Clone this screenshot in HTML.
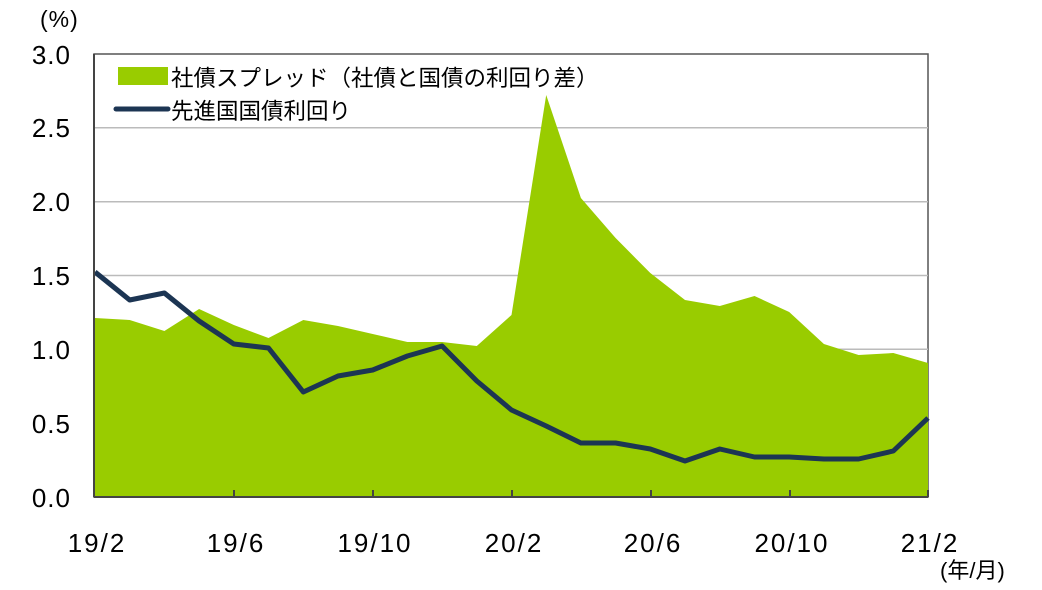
<!DOCTYPE html>
<html><head><meta charset="utf-8"><style>
body{margin:0;background:#fff;}
svg text{font-family:"Liberation Sans","Noto Sans CJK JP",sans-serif;fill:#000;}
</style></head><body>
<svg width="1042" height="585" viewBox="0 0 1042 585" xmlns="http://www.w3.org/2000/svg">
<rect x="94" y="54" width="834" height="443" fill="none" stroke="#555" stroke-width="1.5"/>
<g stroke="#bbb" stroke-width="1.5">
<line x1="95" x2="928" y1="127.8" y2="127.8"/>
<line x1="95" x2="928" y1="201.7" y2="201.7"/>
<line x1="95" x2="928" y1="275.5" y2="275.5"/>
<line x1="95" x2="928" y1="349.3" y2="349.3"/>
<line x1="95" x2="928" y1="423.2" y2="423.2"/>
</g>
<polygon fill="#99cc00" points="95,497 95,318 129.7,320 164.4,331 199.1,309 233.8,325 268.5,338 303.3,320 338,326 372.7,334 407.4,342 442.1,342 476.8,346 511.5,315 546.2,95 580.9,198 615.6,238 650.3,273 685,300 719.8,306 754.5,296 789.2,312 823.9,344 858.6,355 893.3,353 928,363 928,497"/>
<polyline fill="none" stroke="#1c3553" stroke-width="5" stroke-linejoin="round" points="95,272 129.7,300 164.4,293 199.1,321 233.8,344 268.5,348 303.3,392 338,376 372.7,370 407.4,356 442.1,346 476.8,381 511.5,410 546.2,426 580.9,443 615.6,443 650.3,449 685,461 719.8,449 754.5,457 789.2,457 823.9,459 858.6,459 893.3,451 928,418"/>
<g stroke="#444" stroke-width="2">
<line x1="94" y1="54" x2="94" y2="497"/>
<line x1="94" y1="497" x2="928" y2="497"/>
<line x1="234" y1="497" x2="234" y2="490"/>
<line x1="373" y1="497" x2="373" y2="490"/>
<line x1="512" y1="497" x2="512" y2="490"/>
<line x1="651" y1="497" x2="651" y2="490"/>
<line x1="790" y1="497" x2="790" y2="490"/>
<line x1="928" y1="497" x2="928" y2="490"/>
</g>
<g font-size="26" text-anchor="end" letter-spacing="1">
<text x="71" y="64">3.0</text>
<text x="71" y="137">2.5</text>
<text x="71" y="211">2.0</text>
<text x="71" y="285">1.5</text>
<text x="71" y="359">1.0</text>
<text x="71" y="433">0.5</text>
<text x="71" y="507">0.0</text>
</g>
<text x="40" y="27" font-size="23" letter-spacing="1">(%)</text>
<g font-size="26" text-anchor="middle" letter-spacing="2">
<text x="97" y="552">19/2</text>
<text x="236" y="552">19/6</text>
<text x="375" y="552">19/10</text>
<text x="514" y="552">20/2</text>
<text x="653" y="552">20/6</text>
<text x="792" y="552">20/10</text>
<text x="930" y="552">21/2</text>
</g>
<text x="940" y="578" font-size="22">(年/月)</text>
<rect x="118" y="67" width="50" height="18" fill="#99cc00"/>
<line x1="116" y1="109" x2="168" y2="109" stroke="#1c3553" stroke-width="5" stroke-linecap="round"/>
<text x="171" y="86" font-size="22.5">社債スプレッド（社債と国債の利回り差）</text>
<text x="171" y="119" font-size="22.5">先進国国債利回り</text>
</svg>
</body></html>
